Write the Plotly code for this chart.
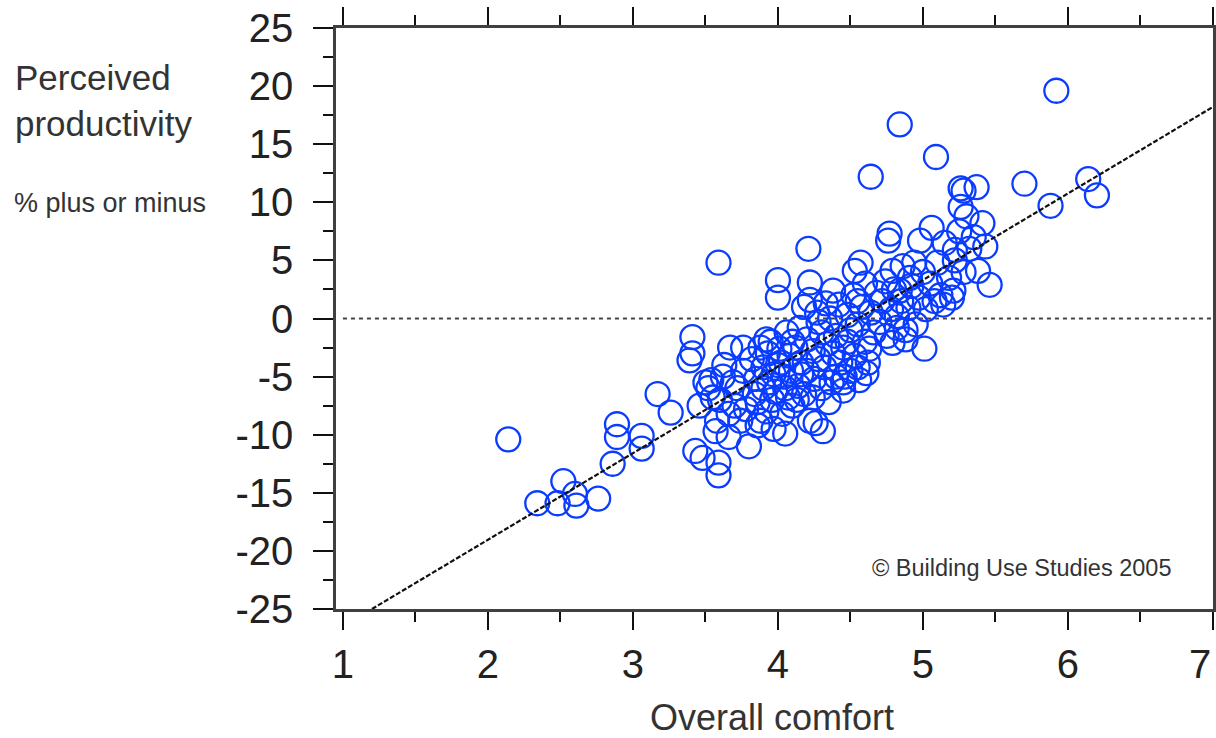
import plotly.graph_objects as go

# ---- data ----
comfort = [
    # low-left group
    2.14, 2.34, 2.48, 2.52, 2.60, 2.61, 2.76, 2.86, 2.89, 2.89, 3.06, 3.06, 3.17, 3.26, 3.46, 3.43, 3.48, 3.59, 3.59, 3.80,
    # 3.35 - 3.8
    3.39, 3.41, 3.41, 3.50, 3.54, 3.52, 3.57, 3.60, 3.62, 3.66, 3.67, 3.70, 3.72, 3.74, 3.76, 3.76, 3.78, 3.66, 3.58, 3.55, 3.63, 3.69, 3.59,
    # 3.8 - 4.1
    3.82, 3.84, 3.85, 3.86, 3.88, 3.88, 3.90, 3.90, 3.92, 3.93, 3.94, 3.95, 3.96, 3.97, 3.98, 4.00, 4.00, 4.00, 4.01, 4.02, 4.03, 4.04, 4.05, 4.05, 4.06, 4.07, 4.08, 4.09, 4.10, 4.10, 3.92, 3.86, 3.97,
    # 4.1 - 4.4
    4.12, 4.13, 4.14, 4.15, 4.16, 4.18, 4.18, 4.20, 4.20, 4.21, 4.22, 4.22, 4.22, 4.24, 4.25, 4.26, 4.27, 4.28, 4.30, 4.30, 4.31, 4.32, 4.33, 4.34, 4.35, 4.36, 4.37, 4.38, 4.38, 4.40, 4.40, 4.28, 4.16, 4.24,
    # 4.4 - 4.7
    4.42, 4.43, 4.45, 4.45, 4.46, 4.48, 4.50, 4.50, 4.52, 4.53, 4.53, 4.55, 4.55, 4.56, 4.57, 4.58, 4.60, 4.60, 4.61, 4.62, 4.64, 4.64, 4.66, 4.68, 4.70, 4.45, 4.55, 4.48, 4.63,
    # 4.7 - 5.0
    4.72, 4.74, 4.75, 4.76, 4.77, 4.78, 4.79, 4.79, 4.80, 4.82, 4.84, 4.84, 4.85, 4.86, 4.88, 4.88, 4.90, 4.91, 4.92, 4.94, 4.95, 4.97, 4.98, 5.00, 4.82,
    # 5.0 - 5.5
    5.01, 5.02, 5.05, 5.06, 5.08, 5.09, 5.10, 5.12, 5.15, 5.18, 5.20, 5.21, 5.22, 5.22, 5.25, 5.26, 5.26, 5.28, 5.28, 5.30, 5.32, 5.35, 5.37, 5.38, 5.41, 5.43, 5.46, 5.14,
    # high comfort
    5.70, 5.88, 5.92, 6.14, 6.20,
]
productivity = [
    -10.4, -15.9, -15.9, -14.0, -15.1, -16.1, -15.5, -12.5, -9.1, -10.2, -10.1, -11.2, -6.5, -8.1, -7.5, -11.4, -12.0, -12.4, -13.5, -11.0,
    -3.6, -1.6, -3.0, -5.5, -5.3, -6.0, -9.7, -7.0, -5.0, -10.2, -2.5, -7.5, -6.0, -8.8, -2.5, -4.5, -7.8, -8.2, -8.8, -6.8, -4.0, -5.5, 4.8,
    -3.5, -6.5, -5.2, -7.2, -2.5, -8.8, -6.0, -4.2, -8.0, -3.0, -5.5, -2.0, -7.0, -4.8, -6.3, 3.3, 1.8, -4.0, -2.6, -3.8, -8.2, -5.0, -9.9, -6.0, -1.2, -6.8, -3.2, -4.5, -7.5, -2.0, -1.8, -9.2, -9.5,
    -2.5, -7.0, -5.8, -0.8, -3.8, -6.5, 1.0, -1.8, -4.5, 6.0, 3.1, 1.6, -8.8, -2.8, -5.2, -9.0, 0.5, -3.5, -6.0, -1.2, -9.7, -4.2, 1.3, -2.2, -7.2, 0.0, -5.5, 2.4, -3.0, -5.0, -1.5, -0.3, -4.8, -6.8,
    1.2, -3.8, -2.5, -6.2, -5.0, 0.3, -4.5, -1.0, 2.0, 4.1, -3.2, -0.5, -4.2, -5.3, 4.8, 1.0, -2.0, 3.0, -4.7, -3.8, 0.5, 12.2, -1.2, 2.2, -0.3, -5.5, 1.5, -2.0, -2.6,
    1.5, 3.2, -1.5, 6.7, 7.3, 0.8, -2.1, 4.1, 2.5, -0.8, 2.4, 16.7, 1.5, 4.5, -1.8, -1.0, 0.9, 3.5, 2.8, 4.8, -0.5, 1.8, 6.7, 4.0, 0.2,
    -2.6, 0.8, 3.0, 7.8, 1.5, 13.9, 4.8, 2.0, 6.5, 3.5, 1.8, 2.4, 5.9, 5.0, 7.5, 9.6, 11.2, 4.0, 11.0, 8.8, 6.0, 7.0, 11.3, 4.1, 8.2, 6.2, 2.9, 1.2,
    11.6, 9.7, 19.6, 12.0, 10.6,
]

# regression line
fit_slope = 7.45
fit_intercept = -33.94
fit_x = [1.2, 7.0]

x_ticks = [1, 2, 3, 4, 5, 6, 7]
x_tick_labels = ["1", "2", "3", "4", "5", "6", ""]   # last label drawn right-aligned below
x_last_label = "7"
y_ticks = [-25, -20, -15, -10, -5, 0, 5, 10, 15, 20, 25]
y_tick_labels = ["-25", "-20", "-15", "-10", "-5", "0", "5", "10", "15", "20", "25"]

FONT = "Liberation Sans, Arial, sans-serif"
BLUE = "#0a3cff"

fig = go.Figure()

fig.add_trace(go.Scatter(
    x=comfort, y=productivity, mode="markers",
    marker=dict(symbol="circle-open", size=24, color=BLUE, line=dict(width=2.3)),
    hoverinfo="skip", showlegend=False,
))

fig.add_trace(go.Scatter(
    x=fit_x, y=[fit_slope * v + fit_intercept for v in fit_x], mode="lines",
    line=dict(color="#111111", width=2.2, dash="5px,2px"),
    hoverinfo="skip", showlegend=False,
))

# dotted zero line
fig.add_shape(type="line", xref="x", yref="y", x0=1, x1=7, y0=0, y1=0,
              line=dict(color="#444444", width=2, dash="4px,4px"), layer="below")

W, H = 1216, 738
ml, mr, mt, mb = 336, 3, 28, 129
pw, ph = W - ml - mr, H - mt - mb

def px(x):
    return (x - ml) / pw

def py(y):
    return (H - mb - y) / ph

fig.update_layout(
    width=W, height=H,
    margin=dict(l=ml, r=mr, t=mt, b=mb, pad=0, autoexpand=False),
    paper_bgcolor="white", plot_bgcolor="white",
    font=dict(family=FONT, color="#222222"),
    xaxis=dict(
        range=[0.952, 7.0005], tickvals=x_ticks, ticktext=x_tick_labels,
        ticks="outside", ticklen=18, tickwidth=2,
        tickcolor="#111111", showline=True, linewidth=2.5, linecolor="#404040",
        mirror="ticks", showgrid=False, zeroline=False, automargin=False,
        tickfont=dict(size=40, family=FONT, color="#222222"),
        ticklabelstandoff=0,
        minor=dict(dtick=0.5, tick0=1, ticks="outside", ticklen=10, tickwidth=2, tickcolor="#111111"),
    ),
    yaxis=dict(
        range=[-25, 25], tickvals=y_ticks, ticktext=y_tick_labels,
        ticks="outside", ticklen=20, tickwidth=2,
        tickcolor="#111111", showline=True, linewidth=2.5, linecolor="#404040",
        mirror=True, showgrid=False, zeroline=False, automargin=False,
        tickfont=dict(size=40, family=FONT, color="#222222"),
        ticklabelstandoff=12,
        minor=dict(dtick=2.5, tick0=0, ticks="outside", ticklen=10, tickwidth=2, tickcolor="#111111"),
    ),
    annotations=[
        dict(text=x_last_label, xref="x", yref="paper",
             x=x_ticks[-1], y=py(664), xanchor="right", yanchor="middle",
             showarrow=False, font=dict(size=40, family=FONT, color="#222222")),
        dict(text="Perceived<br>productivity", xref="paper", yref="paper",
             x=px(13), y=py(100), xanchor="left", yanchor="middle", align="left",
             showarrow=False, font=dict(size=35, family=FONT, color="#333333")),
        dict(text="% plus or minus", xref="paper", yref="paper",
             x=px(12), y=py(203), xanchor="left", yanchor="middle",
             showarrow=False, font=dict(size=27, family=FONT, color="#333333")),
        dict(text="Overall comfort", xref="paper", yref="paper",
             x=px(772), y=py(717), xanchor="center", yanchor="middle",
             showarrow=False, font=dict(size=36, family=FONT, color="#333333")),
        dict(text="© Building Use Studies 2005", xref="paper", yref="paper",
             x=px(1174), y=py(568), xanchor="right", yanchor="middle",
             showarrow=False, font=dict(size=23.5, family=FONT, color="#333333")),
    ],
)

fig.write_html("out.html")
